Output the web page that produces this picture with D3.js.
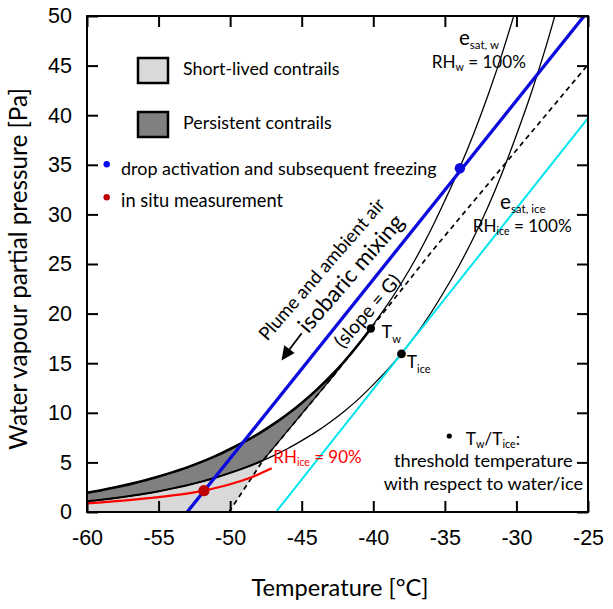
<!DOCTYPE html>
<html><head><meta charset="utf-8">
<script src="https://cdn.jsdelivr.net/npm/d3@7"></script>
<style>body{margin:0;background:#fff}</style>
</head><body>
<svg id="c" width="613" height="609"></svg>
<script>
// ---------------- data ----------------
const xTicks = [-60, -55, -50, -45, -40, -35, -30, -25];
const yTicks = [0, 5, 10, 15, 20, 25, 30, 35, 40, 45, 50];

// saturation vapour pressure over water (Pa)
const eSatWaterT = [-60,-59,-58,-57,-56,-55,-54,-53,-52,-51,-50,-49,-48,-47,-46,-45,-44,-43,-42,-41,-40,-39,-38,-37,-36,-35,-34,-33,-32,-31,-30];
const eSatWaterP = [1.95,2.20,2.49,2.81,3.17,3.58,4.02,4.50,5.05,5.66,6.35,7.09,7.91,8.83,9.86,11.00,12.26,13.66,15.22,16.96,18.90,20.92,23.16,25.63,28.37,31.40,34.58,38.09,41.96,46.21,50.90];

// saturation vapour pressure over ice (Pa)
const eSatIceT = [-60,-59,-58,-57,-56,-55,-54,-53,-52,-51,-50,-49,-48,-47,-46,-45,-44,-43,-42,-41,-40,-39,-38,-37,-36,-35,-34,-33,-32,-31,-30,-29,-28,-27];
const eSatIceP = [1.08,1.23,1.41,1.61,1.83,2.09,2.38,2.70,3.06,3.47,3.94,4.45,5.02,5.66,6.38,7.20,8.08,9.08,10.19,11.43,12.84,14.35,16.03,17.91,20.01,22.35,24.85,27.64,30.73,34.18,38.01,42.09,46.61,51.62];

// RH_ice = 90 % curve (as drawn)
const rh90T = [-60, -57.5, -55, -52.5, -50, -48.5, -47.1];
const rh90P = [0.87, 1.15, 1.50, 1.98, 2.80, 3.50, 4.40];

// dashed threshold mixing line (tangent to e_sat,w)
const thresholdT = [-50.08, -47.7, -42.8, -40.17, -35.84, -25];
const thresholdP = [0, 5.2, 13.7, 18.5, 26.4, 45.1];

// blue plume mixing line
const mixingT = [-53.0, -25.27];
const mixingP = [0, 50];

// cyan line tangent to e_sat,ice
const iceTangentT = [-46.8, -25];
const iceTangentP = [0, 39.7];

// marked points [T, e]
const pointTw = [-40.17, 18.5];
const pointTice = [-38.03, 15.93];
const pointDrop = [-33.95, 34.65];
const pointInSitu = [-51.83, 2.15];
const pointThresholdIce = [-47.7, 5.2];   // dashed line meets e_sat,ice

// ---------------- layout ----------------
const svg = d3.select('#c');
const x = d3.scaleLinear().domain([-60, -25]).range([87, 588]);
const y = d3.scaleLinear().domain([0, 50]).range([512, 16]);
const ANNO = "Lato, 'Open Sans', sans-serif";
const TICKF = "'Liberation Sans', Arial, sans-serif";

svg.append('defs').append('clipPath').attr('id', 'clip')
  .append('rect').attr('x', 87).attr('y', 16).attr('width', 501).attr('height', 496);

const zip = (T, P) => T.map((t, i) => [t, P[i]]);
const ew = zip(eSatWaterT, eSatWaterP);
const ei = zip(eSatIceT, eSatIceP);
const rh = zip(rh90T, rh90P);
const thr = zip(thresholdT, thresholdP);
const mix = zip(mixingT, mixingP);
const icet = zip(iceTangentT, iceTangentP);

const line = d3.line().x(d => x(d[0])).y(d => y(d[1]));
const smooth = d3.line().x(d => x(d[0])).y(d => y(d[1])).curve(d3.curveMonotoneX);

const plot = svg.append('g').attr('clip-path', 'url(#clip)');

// regions
const iceLow = ei.filter(d => d[0] < pointThresholdIce[0]);
const lightPoly = [...iceLow, pointThresholdIce, thr[0], [-60, 0]];
const darkPoly = [
  ...ew.filter(d => d[0] < pointTw[0]),
  pointTw,
  ...thr.filter(d => d[0] < pointTw[0] && d[0] > pointThresholdIce[0]).reverse(),
  pointThresholdIce,
  ...iceLow.slice().reverse()
];
plot.append('path').attr('d', line(lightPoly) + 'Z').attr('fill', '#d9d9d9');
plot.append('path').attr('d', line(darkPoly) + 'Z').attr('fill', '#808080');

// saturation curves (thin)
plot.append('path').attr('d', smooth(ew)).attr('fill', 'none').attr('stroke', '#000').attr('stroke-width', 1.3);
plot.append('path').attr('d', smooth(ei)).attr('fill', 'none').attr('stroke', '#000').attr('stroke-width', 1.3);
// thick outlines of the persistent region
plot.append('path').attr('d', smooth([...ew.filter(d => d[0] < pointTw[0]), pointTw]))
  .attr('fill', 'none').attr('stroke', '#000').attr('stroke-width', 2.6);
plot.append('path').attr('d', smooth([...iceLow, pointThresholdIce]))
  .attr('fill', 'none').attr('stroke', '#000').attr('stroke-width', 2);
plot.append('path').attr('d', line(thr.filter(d => d[0] <= pointTw[0] && d[0] >= pointThresholdIce[0])))
  .attr('fill', 'none').attr('stroke', '#000').attr('stroke-width', 1.2);
// dashed threshold line
plot.append('path').attr('d', line(thr)).attr('fill', 'none').attr('stroke', '#000')
  .attr('stroke-width', 1.7).attr('stroke-dasharray', '5,4');
// cyan tangent
plot.append('path').attr('d', line(icet)).attr('fill', 'none').attr('stroke', '#00e5ee').attr('stroke-width', 2);
// RH_ice 90 %
plot.append('path').attr('d', smooth(rh)).attr('fill', 'none').attr('stroke', '#ff0000').attr('stroke-width', 2.2);
// blue mixing line
plot.append('path').attr('d', line(mix)).attr('fill', 'none').attr('stroke', '#0a0adc').attr('stroke-width', 3.3);

// points
const dot = (p, r, c) => svg.append('circle').attr('cx', x(p[0])).attr('cy', y(p[1])).attr('r', r).attr('fill', c);
dot(pointTw, 4.2, '#000');
dot(pointTice, 4.4, '#000');
dot(pointDrop, 5.2, '#0a0adc');
dot(pointInSitu, 5.6, '#c00000');

// ---------------- axes ----------------
const fmt = d => String(d);
const ax = svg.append('g').attr('font-family', TICKF);
ax.append('g').attr('transform', 'translate(0,512)')
  .call(d3.axisBottom(x).tickValues(xTicks).tickFormat(fmt).tickSizeInner(-11).tickSizeOuter(0).tickPadding(17.5));
ax.append('g').attr('transform', 'translate(0,16)')
  .call(d3.axisTop(x).tickValues(xTicks).tickSizeInner(-11).tickSizeOuter(0).tickFormat(''));
ax.append('g').attr('transform', 'translate(87,0)')
  .call(d3.axisLeft(y).tickValues(yTicks).tickFormat(fmt).tickSizeInner(-11).tickSizeOuter(0).tickPadding(15));
ax.append('g').attr('transform', 'translate(588,0)')
  .call(d3.axisRight(y).tickValues(yTicks).tickSizeInner(-11).tickSizeOuter(0).tickFormat(''));
ax.selectAll('.domain').remove();
ax.selectAll('.tick line').attr('stroke', '#000').attr('stroke-width', 2);
ax.selectAll('.tick text').attr('font-size', 21.5).attr('fill', '#000').attr('font-family', TICKF);
svg.append('rect').attr('x', 87).attr('y', 16).attr('width', 501).attr('height', 496)
  .attr('fill', 'none').attr('stroke', '#000').attr('stroke-width', 2);

// ---------------- text helpers ----------------
function fit(t, w) {
  const fs = parseFloat(t.attr('font-size'));
  const L = t.node().getComputedTextLength();
  if (L > 0) t.attr('font-size', (fs * w / L).toFixed(2));
  return t;
}
function txt(xp, yp, str, w, opts = {}) {
  const t = svg.append('text').attr('x', xp).attr('y', yp).attr('font-family', ANNO)
    .attr('font-size', opts.size || 18).attr('fill', opts.color || '#000')
    .attr('text-anchor', opts.anchor || 'start').text(str);
  if (opts.transform) t.attr('transform', opts.transform);
  if (opts.dy) t.attr('dy', opts.dy);
  if (w) fit(t, w);
  return t;
}
// parts: [[string, isSub], ...]; scaled so the whole label has width w (if w given)
function rich(xp, yp, parts, w, opts = {}) {
  const sub = opts.sub || 0.62;
  const build = (size, shift) => {
    const t = svg.append('text').attr('x', xp).attr('y', yp).attr('font-family', ANNO)
      .attr('font-size', size).attr('fill', opts.color || '#000');
    let prevSub = false;
    parts.forEach(([s, isSub]) => {
      const ts = t.append('tspan').text(s);
      if (isSub) { ts.attr('font-size', size * sub); if (!prevSub) ts.attr('dy', shift); }
      else if (prevSub) ts.attr('dy', -shift);
      prevSub = isSub;
    });
    return t;
  };
  const size0 = opts.size || 18.5, shift0 = opts.shift || 4;
  if (!w) return build(size0, shift0);
  const probe = build(size0, shift0);
  const k = w / probe.node().getComputedTextLength();
  probe.remove();
  return build(size0 * k, shift0);
}

// axis titles
txt(340, 596, 'Temperature [°C]', 177, { anchor: 'middle', size: 22 });
txt(0, 0, 'Water vapour partial pressure [Pa]', 362,
  { anchor: 'middle', size: 22, transform: 'translate(27,269) rotate(-90)' });

// legend
svg.append('rect').attr('x', 138).attr('y', 58).attr('width', 30).attr('height', 25)
  .attr('fill', '#d9d9d9').attr('stroke', '#000').attr('stroke-width', 2.5);
svg.append('rect').attr('x', 138).attr('y', 112).attr('width', 30).attr('height', 25)
  .attr('fill', '#808080').attr('stroke', '#000').attr('stroke-width', 2.5);
txt(183, 75, 'Short-lived contrails', 156.5);
txt(183, 129.3, 'Persistent contrails', 149);
svg.append('circle').attr('cx', 106.7).attr('cy', 164.3).attr('r', 3.2).attr('fill', '#0a0af0');
svg.append('circle').attr('cx', 106.7).attr('cy', 197.3).attr('r', 3.2).attr('fill', '#c00000');
txt(121, 174.5, 'drop activation and subsequent freezing', 316);
txt(121, 207, 'in situ measurement', 162);

// curve labels
rich(459, 45, [['e', false], ['sat, w', true]], 40, { size: 20, sub: 0.56, shift: 4 });
rich(431.7, 68.3, [['RH', false], ['w', true], [' = 100%', false]], 94.3, { shift: 3 });
rich(500, 208.5, [['e', false], ['sat, ice', true]], 45.5, { size: 20, sub: 0.56, shift: 4 });
rich(472.7, 231.7, [['RH', false], ['ice', true], [' = 100%', false]], 99, { shift: 3 });
rich(381.5, 338.3, [['T', false], ['w', true]], null, { size: 18, shift: 5 });
rich(406.7, 368.3, [['T', false], ['ice', true]], null, { size: 17.5, shift: 4.5 });
rich(273.3, 463, [['RH', false], ['ice', true], [' = 90%', false]], 88.4, { color: '#ff0000', shift: 3 });

// mixing annotation (rotated)
const ang = -49;
txt(0, 0, 'Plume and ambient air', 181, { anchor: 'middle', size: 17, dy: '0.35em',
  transform: `translate(321.7,269.2) rotate(${ang})` });
txt(0, 0, 'isobaric mixing', 148, { anchor: 'middle', size: 21, dy: '0.35em',
  transform: `translate(350.8,273.3) rotate(${ang})` });
txt(0, 0, '(slope = G)', 90, { anchor: 'middle', size: 17, dy: '0.35em',
  transform: `translate(367.5,310.8) rotate(${ang})` });
// arrow
svg.append('line').attr('x1', 301.7).attr('y1', 333.3).attr('x2', 289).attr('y2', 350)
  .attr('stroke', '#000').attr('stroke-width', 1.8);
svg.append('path').attr('d', 'M281.5,360.5 L284.2,345.2 L294.6,353.1 Z').attr('fill', '#000');

// threshold note
svg.append('circle').attr('cx', 449.3).attr('cy', 436).attr('r', 2.6).attr('fill', '#000');
rich(465.7, 445, [['T', false], ['w', true], ['/T', false], ['ice', true], [':', false]], 54.3, { shift: 2.5 });
txt(483.3, 467.3, 'threshold temperature', 178.7, { anchor: 'middle' });
txt(483.3, 489.8, 'with respect to water/ice', 199.4, { anchor: 'middle' });
</script>
</body></html>
